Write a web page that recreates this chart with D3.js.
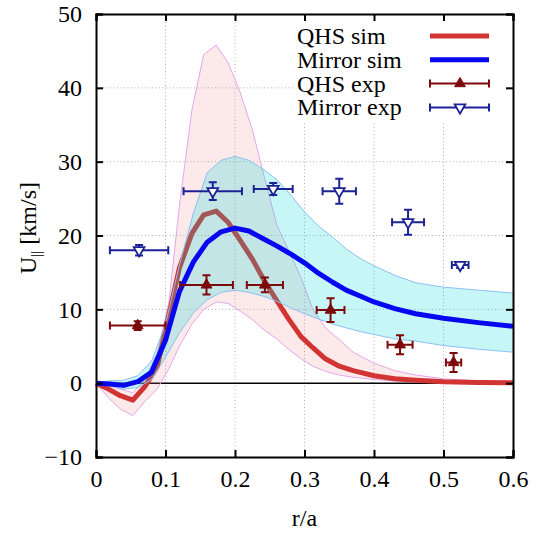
<!DOCTYPE html>
<html>
<head>
<meta charset="utf-8">
<script src="https://cdn.jsdelivr.net/npm/d3@7"></script>
<style>
  html, body { margin: 0; padding: 0; background: #fff; }
  svg text { font-family: "Liberation Serif", "DejaVu Serif", serif; }
</style>
</head>
<body>
<div id="chart"></div>
<script>
// QHS simulation: mean flow and uncertainty band
const qhsR = [0, 0.018, 0.035, 0.053, 0.07, 0.088, 0.105, 0.12, 0.138, 0.155, 0.173, 0.19, 0.207, 0.225, 0.242, 0.26, 0.277, 0.295, 0.312, 0.33, 0.35, 0.37, 0.4, 0.43, 0.46, 0.5, 0.55, 0.6]
const qhsSim = [0, -0.8, -1.7, -2.3, -0.5, 2.2, 9.3, 15.6, 20.3, 22.8, 23.3, 21.8, 19.4, 16.8, 13.9, 11.2, 8.7, 6.3, 4.8, 3.3, 2.3, 1.7, 1.0, 0.6, 0.4, 0.2, 0.1, 0.05]
const qhsHi = [0, -0.3, -0.8, -1.3, 0.5, 4, 11, 24, 37, 44.5, 45.8, 43.4, 39.5, 34.3, 28, 21.5, 18, 14.3, 10, 7.5, 5.9, 4.2, 2.7, 1.7, 1.1, 0.6, 0.3, 0.15]
const qhsLo = [0, -2, -3.5, -4.4, -2.5, -0.8, 2, 5, 8, 10, 11, 10.8, 9.8, 8.6, 7.2, 6, 4.6, 3.3, 2.3, 1.6, 1.1, 0.8, 0.5, 0.3, 0.2, 0.1, 0.05, 0]

// Mirror simulation: mean flow and uncertainty band
const mirR = [0, 0.02, 0.04, 0.06, 0.08, 0.1, 0.12, 0.14, 0.16, 0.18, 0.2, 0.22, 0.24, 0.26, 0.28, 0.3, 0.32, 0.34, 0.36, 0.38, 0.4, 0.43, 0.46, 0.5, 0.55, 0.6]
const mirSim = [0, -0.1, -0.3, 0.2, 1.5, 5.8, 12.4, 16.4, 19.1, 20.5, 21, 20.6, 19.6, 18.6, 17.5, 16.3, 14.9, 13.7, 12.6, 11.8, 11.0, 10.1, 9.4, 8.8, 8.2, 7.7]
const mirHi = [0.1, 0.3, 0.4, 1.0, 3, 8, 16, 23, 28.5, 30.2, 30.7, 30.2, 29, 27.6, 25.5, 23.2, 21.3, 19.8, 18.2, 16.9, 15.9, 14.6, 13.6, 13, 12.6, 12.2]
const mirLo = [-0.1, -0.4, -0.8, -0.6, 0.5, 3.5, 6.8, 9.5, 11.3, 12.3, 12.6, 12.3, 11.8, 11.1, 10.2, 9.4, 8.7, 8.0, 7.5, 7.0, 6.6, 6.0, 5.7, 5.1, 4.6, 4.2]

// experimental points
const qhsExpR = [0.06, 0.159, 0.243, 0.3375, 0.4375, 0.5145]
const qhsExpRErr = [0.04, 0.038, 0.026, 0.02, 0.018, 0.011]
const qhsExpU = [7.8, 13.3, 13.3, 9.9, 5.2, 2.8]
const qhsExpUErr = [0.6, 1.3, 1.0, 1.6, 1.3, 1.3]

const mirExpR = [0.062, 0.168, 0.255, 0.35, 0.449, 0.524]
const mirExpRErr = [0.042, 0.042, 0.028, 0.024, 0.023, 0.012]
const mirExpU = [18.0, 26.0, 26.3, 26.0, 21.8, 16.0]
const mirExpUErr = [0.7, 1.2, 0.8, 1.7, 1.7, 0.4]

const xTicks = [0, 0.1, 0.2, 0.3, 0.4, 0.5, 0.6]
const yTicks = [-10, 0, 10, 20, 30, 40, 50]

const width = 542, height = 533
const margin = { top: 14, right: 29, bottom: 76, left: 96 }
const serif = '"Liberation Serif", "DejaVu Serif", serif'

const svg = d3.select('#chart').append('svg')
  .attr('width', width)
  .attr('height', height)

const x = d3.scaleLinear().domain([0, 0.6]).range([margin.left, width - margin.right])
const y = d3.scaleLinear().domain([-10, 50]).range([height - margin.bottom, margin.top])

// grid
const grid = svg.append('g')
  .attr('stroke', '#b0b0b0')
  .attr('stroke-width', 1)
  .attr('stroke-dasharray', '1,2.5')
grid.selectAll('line.gx').data(xTicks.slice(1, -1)).join('line')
  .attr('class', 'gx')
  .attr('x1', d => x(d)).attr('x2', d => x(d))
  .attr('y1', y(-10)).attr('y2', y(50))
grid.selectAll('line.gy').data(yTicks.filter(d => d !== 0).slice(1, -1)).join('line')
  .attr('class', 'gy')
  .attr('x1', x(0)).attr('x2', x(0.6))
  .attr('y1', d => y(d)).attr('y2', d => y(d))

// zero line
svg.append('line')
  .attr('x1', x(0)).attr('x2', x(0.6))
  .attr('y1', y(0)).attr('y2', y(0))
  .attr('stroke', '#000').attr('stroke-width', 1.5)

const zip = (rs, a, b) => rs.map((r, i) => [r, a[i], b ? b[i] : null])

const area = d3.area().x(d => x(d[0])).y0(d => y(d[1])).y1(d => y(d[2]))
const line = d3.line().x(d => x(d[0])).y(d => y(d[1]))

// QHS band + line
svg.append('path').attr('d', area(zip(qhsR, qhsLo, qhsHi)))
  .attr('fill', 'rgba(240,140,140,0.18)')
svg.append('path').attr('d', line(zip(qhsR, qhsHi)))
  .attr('fill', 'none').attr('stroke', '#e6a6ec').attr('stroke-width', 1)
svg.append('path').attr('d', line(zip(qhsR, qhsLo)))
  .attr('fill', 'none').attr('stroke', '#e6a6ec').attr('stroke-width', 1)
svg.append('path').attr('d', line(zip(qhsR, qhsSim)))
  .attr('fill', 'none').attr('stroke', '#d23434').attr('stroke-width', 5)
  .attr('stroke-linejoin', 'round')

// Mirror band + line
svg.append('path').attr('d', area(zip(mirR, mirLo, mirHi)))
  .attr('fill', 'rgba(0,215,215,0.22)')
svg.append('path').attr('d', line(zip(mirR, mirHi)))
  .attr('fill', 'none').attr('stroke', '#8cc0f2').attr('stroke-width', 1)
svg.append('path').attr('d', line(zip(mirR, mirLo)))
  .attr('fill', 'none').attr('stroke', '#8cc0f2').attr('stroke-width', 1)
svg.append('path').attr('d', line(zip(mirR, mirSim)))
  .attr('fill', 'none').attr('stroke', '#0808f0').attr('stroke-width', 5)
  .attr('stroke-linejoin', 'round')

// error bars
const cap = 4
function errorBars(g, rs, rErr, us, uErr, color, filled) {
  const pts = rs.map((r, i) => ({ r, re: rErr[i], u: us[i], ue: uErr[i] }))
  const pg = g.append('g').attr('stroke', color).attr('stroke-width', 2).attr('fill', 'none')
  const item = pg.selectAll('g').data(pts).join('g')
  item.append('path').attr('d', d => {
    const cx = x(d.r), cy = y(d.u)
    const x0 = x(d.r - d.re), x1 = x(d.r + d.re)
    const y0 = y(d.u - d.ue), y1 = y(d.u + d.ue)
    return `M${x0},${cy}H${x1}M${x0},${cy - cap}V${cy + cap}M${x1},${cy - cap}V${cy + cap}` +
      `M${cx},${y0}V${y1}M${cx - cap},${y0}H${cx + cap}M${cx - cap},${y1}H${cx + cap}`
  })
  item.append('path')
    .attr('d', d3.symbol(d3.symbolTriangle, 50))
    .attr('transform', d => `translate(${x(d.r)},${y(d.u)})${filled ? '' : ' rotate(180)'}`)
    .attr('fill', filled ? color : '#fff')
    .attr('stroke-width', filled ? 1 : 1.8)
}
errorBars(svg, qhsExpR, qhsExpRErr, qhsExpU, qhsExpUErr, '#7c0a0a', true)
errorBars(svg, mirExpR, mirExpRErr, mirExpU, mirExpUErr, '#1c2296', false)

// legend
const legend = svg.append('g')
legend.append('rect')
  .attr('x', 293).attr('y', 17).attr('width', 213).attr('height', 105)
  .attr('fill', '#fff')
const legendItems = [
  { label: 'QHS sim', kind: 'line', color: '#d23434' },
  { label: 'Mirror sim', kind: 'line', color: '#0808f0' },
  { label: 'QHS exp', kind: 'err', color: '#7c0a0a', filled: true },
  { label: 'Mirror exp', kind: 'err', color: '#1c2296', filled: false }
]
legendItems.forEach((it, i) => {
  const ly = 36 + i * 23.8
  legend.append('text')
    .attr('x', 297).attr('y', ly + 8)
    .attr('font-family', serif)
    .attr('font-size', 24)
    .text(it.label)
  if (it.kind === 'line') {
    legend.append('line')
      .attr('x1', 430).attr('x2', 489).attr('y1', ly).attr('y2', ly)
      .attr('stroke', it.color).attr('stroke-width', 5)
  } else {
    legend.append('path')
      .attr('d', `M430,${ly}H489M430,${ly - cap}V${ly + cap}M489,${ly - cap}V${ly + cap}`)
      .attr('stroke', it.color).attr('stroke-width', 2).attr('fill', 'none')
    legend.append('path')
      .attr('d', d3.symbol(d3.symbolTriangle, 50))
      .attr('transform', `translate(460,${ly})${it.filled ? '' : ' rotate(180)'}`)
      .attr('fill', it.filled ? it.color : '#fff')
      .attr('stroke', it.color)
      .attr('stroke-width', it.filled ? 1 : 1.8)
  }
})

// axes frame with inward ticks
const tickLen = 7
const axes = svg.append('g')
axes.append('g')
  .attr('transform', `translate(0,${y(-10)})`)
  .call(d3.axisBottom(x).tickValues(xTicks).tickSize(-tickLen).tickPadding(13).tickFormat(d3.format('')))
axes.append('g')
  .attr('transform', `translate(0,${y(50)})`)
  .call(d3.axisTop(x).tickValues(xTicks).tickSize(-tickLen).tickFormat(''))
axes.append('g')
  .attr('transform', `translate(${x(0)},0)`)
  .call(d3.axisLeft(y).tickValues(yTicks).tickSize(-tickLen).tickPadding(14))
axes.append('g')
  .attr('transform', `translate(${x(0.6)},0)`)
  .call(d3.axisRight(y).tickValues(yTicks).tickSize(-tickLen).tickFormat(''))
axes.selectAll('g').attr('font-family', serif)
axes.selectAll('.domain').attr('stroke', '#000').attr('stroke-width', 2)
axes.selectAll('.tick line').attr('stroke', '#000').attr('stroke-width', 2)
axes.selectAll('.tick text')
  .attr('font-family', serif)
  .attr('font-size', 24)
  .attr('fill', '#000')

// axis titles
svg.append('text')
  .attr('x', (x(0) + x(0.6)) / 2).attr('y', 526)
  .attr('text-anchor', 'middle')
  .attr('font-family', serif)
  .attr('font-size', 24)
  .text('r/a')

const yt = svg.append('text')
  .attr('transform', `translate(36,228) rotate(-90)`)
  .attr('text-anchor', 'middle')
  .attr('font-family', serif)
  .attr('font-size', 24)
yt.append('tspan').text('U')
yt.append('tspan').attr('font-size', 15).attr('dy', 5).text('||')
yt.append('tspan').attr('dy', -5).text(' [km/s]')
</script>
</body>
</html>
